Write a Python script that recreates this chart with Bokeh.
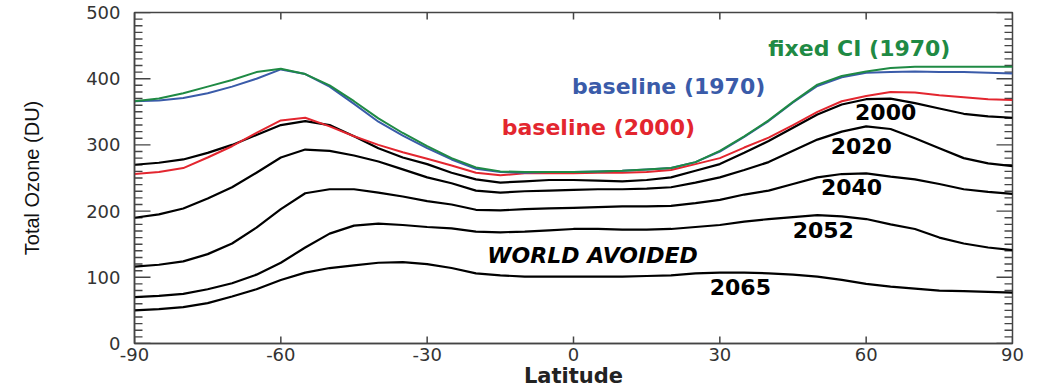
import math
from bokeh.plotting import figure
from bokeh.models import FixedTicker, Label, Range1d
from bokeh.embed import file_html
from bokeh.resources import INLINE

# ---------------- data ----------------
latitude = [-90, -85, -80, -75, -70, -65, -60, -55, -50, -45, -40, -35, -30, -25, -20,
            -15, -10, -5, 0, 5, 10, 15, 20, 25, 30, 35, 40, 45, 50, 55, 60, 65, 70,
            75, 80, 85, 90]

fixed_cl_1970 = [366, 370, 378, 388, 398, 410, 415, 407, 390, 366, 340, 318, 298, 280, 266,
                 260, 259, 259, 259, 260, 261, 263, 265, 274, 291, 313, 337, 365, 391, 404,
                 411, 416, 418, 418, 418, 418, 418]
baseline_1970 = [366, 367, 371, 378, 388, 400, 414, 407, 388, 362, 335, 314, 295, 278, 264,
                 259, 258, 259, 259, 260, 261, 263, 265, 274, 290, 312, 336, 364, 389, 402,
                 409, 410, 411, 410, 410, 409, 408]
baseline_2000 = [256, 259, 265, 281, 298, 318, 337, 341, 328, 313, 300, 289, 279, 269, 258,
                 254, 257, 257, 257, 258, 258, 259, 262, 271, 280, 296, 311, 330, 350, 366,
                 374, 380, 379, 375, 372, 369, 368]
wa_2000 = [270, 273, 278, 288, 300, 315, 330, 336, 330, 313, 295, 281, 271, 258, 248,
           243, 245, 247, 247, 246, 245, 247, 251, 261, 271, 288, 306, 326, 346, 361,
           369, 370, 363, 355, 347, 343, 341]
wa_2020 = [190, 195, 204, 219, 236, 258, 281, 293, 291, 284, 275, 263, 251, 242, 231,
           228, 230, 231, 232, 233, 233, 234, 236, 243, 251, 262, 274, 291, 308, 320,
           328, 324, 310, 295, 280, 272, 268]
wa_2040 = [116, 119, 124, 135, 151, 175, 203, 227, 233, 233, 228, 222, 215, 210, 202,
           201, 203, 204, 205, 206, 207, 207, 208, 212, 217, 225, 231, 241, 251, 256,
           257, 252, 248, 241, 233, 229, 226]
wa_2052 = [70, 72, 75, 82, 91, 104, 122, 145, 166, 178, 181, 179, 176, 174, 169,
           168, 169, 171, 173, 173, 172, 172, 173, 176, 179, 184, 188, 191, 194, 192,
           188, 180, 173, 160, 151, 145, 141]
wa_2065 = [50, 52, 55, 61, 71, 82, 96, 107, 114, 118, 122, 123, 120, 114, 106,
           103, 101, 101, 101, 101, 101, 102, 103, 106, 107, 107, 106, 104, 101, 96,
           90, 86, 83, 80, 79, 78, 77]

x_ticks = [-90, -60, -30, 0, 30, 60, 90]
x_tick_labels = ["-90", "-60", "-30", "0", "30", "60", "90"]
y_ticks = [0, 100, 200, 300, 400, 500]
y_tick_labels = ["0", "100", "200", "300", "400", "500"]
y_minor_ticks = [v for v in range(0, 501, 10) if v % 100 != 0]

black_series = [wa_2000, wa_2020, wa_2040, wa_2052, wa_2065]
black_names = ["2000", "2020", "2040", "2052", "2065"]

GREEN = "#1f8a44"
BLUE = "#3a5ba9"
RED = "#e3262f"
AXIS = "#444444"
XMIN, XMAX, YMIN, YMAX = -90, 90, 0, 500
FRAME_W, FRAME_H = 878, 330   # frame size in px (width minus borders)

# ---------------- figure ----------------
p = figure(width=1046, height=390, x_range=Range1d(XMIN, XMAX), y_range=Range1d(YMIN, YMAX),
           output_backend="svg", toolbar_location=None,
           min_border_left=134, min_border_right=34, min_border_top=12, min_border_bottom=46)
p.grid.visible = False
p.outline_line_color = AXIS
p.outline_line_width = 1.5
p.background_fill_color = "white"
p.border_fill_color = "white"

tick_font = "DejaVu Sans"

xa = p.xaxis[0]
xa.ticker = FixedTicker(ticks=x_ticks)
xa.major_label_overrides = {t: s for t, s in zip(x_ticks, x_tick_labels)}
xa.major_tick_in = 0
xa.major_tick_out = 0
xa.minor_tick_in = 0
xa.minor_tick_out = 0
xa.axis_line_color = AXIS
xa.axis_line_width = 1.5
xa.major_label_text_font = tick_font
xa.major_label_text_font_size = "18px"
xa.major_label_text_color = "#333333"
xa.major_label_standoff = 4
xa.axis_label = "Latitude"
xa.axis_label_text_font = "DejaVu Sans"
xa.axis_label_text_font_style = "bold"
xa.axis_label_text_font_size = "21px"
xa.axis_label_text_color = "#222222"
xa.axis_label_standoff = 0

ya = p.yaxis[0]
ya.ticker = FixedTicker(ticks=y_ticks)
ya.major_label_overrides = {t: s for t, s in zip(y_ticks, y_tick_labels)}
ya.major_tick_in = 0
ya.major_tick_out = 0
ya.minor_tick_in = 0
ya.minor_tick_out = 0
ya.axis_line_color = AXIS
ya.axis_line_width = 1.5
ya.major_label_text_font = tick_font
ya.major_label_text_font_size = "18px"
ya.major_label_text_color = "#333333"
ya.major_label_standoff = 14
ya.axis_label = "Total Ozone (DU)"
ya.axis_label_text_font = "Liberation Sans"
ya.axis_label_text_font_style = "normal"
ya.axis_label_text_font_size = "20px"
ya.axis_label_text_color = "#111111"
ya.axis_label_standoff = 40

# inward ticks as short segments; lengths converted from pixels to data units
dx_per_px = (XMAX - XMIN) / FRAME_W
dy_per_px = (YMAX - YMIN) / FRAME_H

def hticks(x_edge, direction, ys, length_px, width=1.4):
    x1 = x_edge + direction * length_px * dx_per_px
    p.segment(x0=[x_edge] * len(ys), y0=ys, x1=[x1] * len(ys), y1=ys,
              line_color=AXIS, line_width=width)

def vticks(y_edge, direction, xs, length_px, width=1.5):
    y1 = y_edge + direction * length_px * dy_per_px
    p.segment(x0=xs, y0=[y_edge] * len(xs), x1=xs, y1=[y1] * len(xs),
              line_color=AXIS, line_width=width)

hticks(XMIN, 1, y_ticks, 16)
hticks(XMIN, 1, y_minor_ticks, 8)
hticks(XMAX, -1, y_ticks, 16)
hticks(XMAX, -1, y_minor_ticks, 8)
vticks(YMIN, 1, x_ticks, 7)
vticks(YMAX, -1, x_ticks, 7)

# ---------------- lines ----------------
for ser in black_series:
    p.line(latitude, ser, line_color="black", line_width=2.2, line_join="round")
p.line(latitude, baseline_2000, line_color=RED, line_width=2, line_join="round")
p.line(latitude, baseline_1970, line_color=BLUE, line_width=2, line_join="round")
p.line(latitude, fixed_cl_1970, line_color=GREEN, line_width=2, line_join="round")

# ---------------- annotations ----------------
def lab(x, y, text, color, size="22px", style="bold"):
    p.add_layout(Label(x=x, y=y, text=text, text_color=color, text_font="DejaVu Sans",
                       text_font_style=style, text_font_size=size,
                       text_align="center", text_baseline="middle"))

lab(58.6, 446, "fixed CI (1970)", GREEN)
lab(19.5, 388, "baseline (1970)", BLUE)
lab(5.1, 326, "baseline (2000)", RED)
label_pos = [(64.0, 350), (59.0, 299), (57.0, 236), (51.2, 172), (34.2, 85)]
for (lx, ly), name in zip(label_pos, black_names):
    lab(lx, ly, name, "black")
lab(3.9, 133, "WORLD AVOIDED", "black", style="bold italic")

p.add_layout(Label(x=XMAX, y=YMIN, x_offset=28, y_offset=-8, text="°", text_color="#222222",
                   text_font="DejaVu Sans", text_font_size="20px",
                   text_align="center", text_baseline="middle"))

open("out.html", "w").write(file_html(p, INLINE))
